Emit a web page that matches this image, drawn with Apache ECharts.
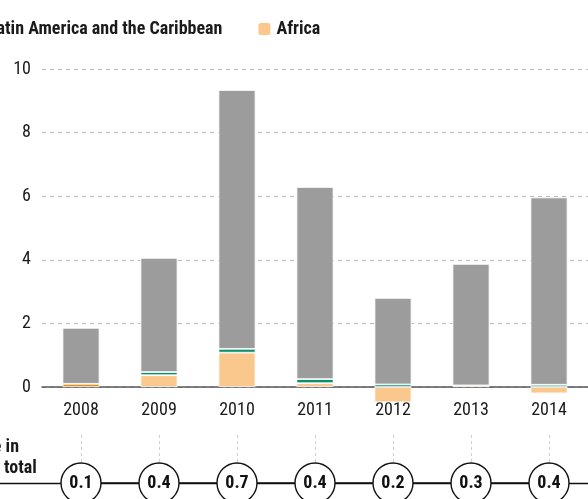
<!DOCTYPE html>
<html>
<head>
<meta charset="utf-8">
<script src="https://cdn.jsdelivr.net/npm/echarts@6/dist/echarts.min.js"></script>
<style>html,body{margin:0;padding:0;background:#fff}#c{width:588px;height:499px}</style>
</head>
<body>
<div id="c"></div>
<script>
var years = ['2008', '2009', '2010', '2011', '2012', '2013', '2014'];
var oceania = [0.1, '-', '-', '-', '-', '-', '-'];
var africa = ['-', 0.37, 1.08, 0.12, -0.48, 0.05, -0.2];
var latam = ['-', 0.1, 0.12, 0.13, 0.08, '-', 0.07];
var asia = [1.76, 3.59, 8.14, 6.04, 2.72, 3.82, 5.89];
var shares = [0.1, 0.4, 0.7, 0.4, 0.2, 0.3, 0.4];
var yTicks = [0, 2, 4, 6, 8, 10];

var FONT = '"Liberation Sans Narrow", "Roboto Condensed", "Arial Narrow", Roboto, sans-serif';
var FS = 18;
var chart = echarts.init(document.getElementById('c'));

function barSeries(name, data, color) {
  return {
    name: name, type: 'bar', stack: 'total', data: data,
    xAxisIndex: 0, yAxisIndex: 0,
    barWidth: 37, clip: false,
    itemStyle: { color: color, borderColor: '#fff', borderWidth: 0.8 }
  };
}

chart.setOption({
  animation: false,
  textStyle: { fontFamily: FONT },
  title: {
    text: 'Share in\nworld total',
    left: -45, top: 432,
    textStyle: { fontFamily: FONT, fontSize: FS, fontWeight: 'bold', color: '#1a1a1a', lineHeight: 21 }
  },
  legend: {
    data: ['Latin America and the Caribbean', 'Africa'],
    left: -37, top: 15,
    itemWidth: 14, itemHeight: 14, itemGap: 34,
    icon: 'roundRect',
    textStyle: { fontFamily: FONT, fontSize: FS, fontWeight: 'bold', color: '#1a1a1a' }
  },
  grid: [
    { left: 42, right: -12, top: 69, bottom: 112 },
    { left: 42, right: -12, top: 435, bottom: 16 },
    { left: 0, right: 0, top: 435, bottom: 16 }
  ],
  xAxis: [
    {
      type: 'category', gridIndex: 0, data: years,
      axisLine: { lineStyle: { color: '#555', width: 1.5 } },
      axisTick: { show: false },
      axisLabel: { margin: 14, fontSize: FS, color: '#1a1a1a', fontFamily: FONT }
    },
    { type: 'category', gridIndex: 1, data: years, show: false },
    {
      type: 'category', gridIndex: 2, data: [''],
      axisLine: { show: true, lineStyle: { color: '#111', width: 1.3 } },
      axisTick: { show: false }, axisLabel: { show: false }
    }
  ],
  yAxis: [
    {
      type: 'value', gridIndex: 0, min: 0, max: 10, interval: 2,
      axisLine: { show: false }, axisTick: { show: false },
      axisLabel: { margin: 11, fontSize: FS, color: '#1a1a1a', fontFamily: FONT,
        formatter: function (v) { return yTicks.indexOf(v) >= 0 ? String(v) : ''; } },
      splitLine: { lineStyle: { color: '#b8b8b8', type: [4, 4], width: 1 } }
    },
    { type: 'value', gridIndex: 1, min: 0, max: 1, show: false },
    { type: 'value', gridIndex: 2, min: 0, max: 1, show: false }
  ],
  series: [
    barSeries('Oceania', oceania, '#e68a12'),
    barSeries('Africa', africa, '#fac88c'),
    barSeries('Latin America and the Caribbean', latam, '#0a8f6c'),
    barSeries('Asia', asia, '#9c9c9c'),
    {
      name: 'Share', type: 'line', xAxisIndex: 1, yAxisIndex: 1,
      data: years.map(function () { return 0; }),
      symbol: 'circle', symbolSize: 40, z: 5,
      lineStyle: { color: '#111', width: 1.3 },
      itemStyle: { color: '#fff', borderColor: '#111', borderWidth: 1.4 },
      label: {
        show: true, position: 'inside', fontFamily: FONT, fontSize: FS, fontWeight: 'bold', color: '#111',
        formatter: function (p) { return shares[p.dataIndex].toFixed(1); }
      },
      markLine: {
        silent: true, symbol: 'none', animation: false,
        label: { show: false },
        lineStyle: { color: '#cfcfcf', type: [3, 3], width: 1 },
        data: years.map(function (y) { return [{ coord: [y, 1] }, { coord: [y, 0.44] }]; })
      }
    }
  ]
});
</script>
</body>
</html>
